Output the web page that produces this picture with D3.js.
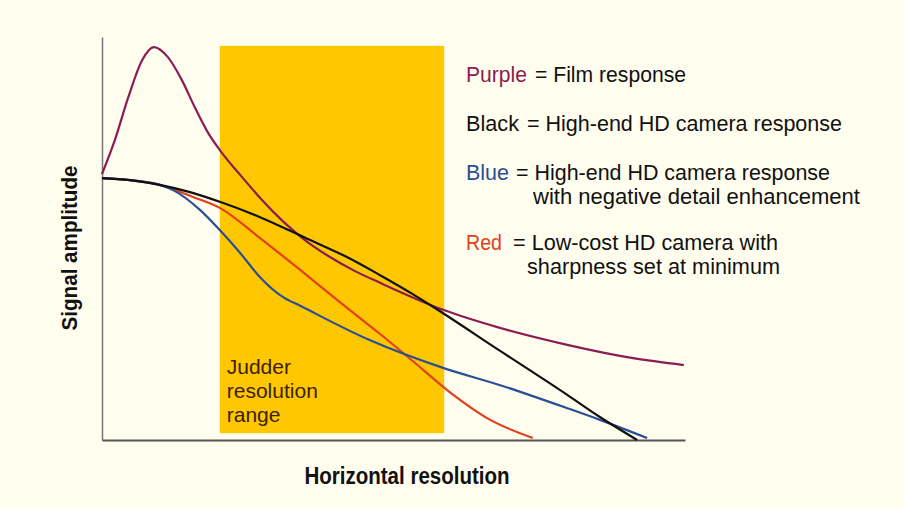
<!DOCTYPE html>
<html>
<head>
<meta charset="utf-8">
<script src="https://cdn.jsdelivr.net/npm/d3@7"></script>
<style>
  body { margin: 0; background: #fffdee; }
  svg { display: block; }
  text { font-family: "Liberation Sans Narrow", "Liberation Sans", sans-serif; }
</style>
</head>
<body>
<svg id="chart"></svg>
<script>
var svg1 = d3.select("#chart"), width = 904, height = 509;
svg1.attr("width", width).attr("height", height);

// curves, x and y both on a 0..100 scale
var purple = [[0,66],[2.2,74.4],[4.5,85],[6.9,94.3],[8.9,97.5],[11.3,95],[13.7,89.3],[15.9,82.6],
    [18.2,76.2],[20.6,71.2],[24,65.3],[27.4,59.6],[31,54.3],[34.8,49.6],[39.1,45.4],[43.4,41.9],
    [47.7,39],[58.5,32.3],[67.8,28],[79.8,23.6],[91.1,20.3],[99.8,18.6]];
var black = [[0,65],[4.8,64.5],[9.9,63.3],[15.1,61.5],[20.2,59.1],[27.1,55.3],[35.7,49.6],[42,45.4],
    [47.7,40.9],[53.3,36.2],[56.3,33.5],[68.3,22.1],[79.8,11.2],[85.4,5.7],[91.8,0]];
var blue = [[0,65],[4.8,64.5],[9.9,63.3],[12.2,62],[16.8,57.1],[20.2,52.1],[23.7,46.4],[27.1,40.4],
    [31,35.5],[34,33.3],[45.9,24.8],[58.5,17.9],[68.3,13.6],[79.8,7.9],[85.4,5],[93.5,0.5]];
var red = [[0,65],[4.8,64.5],[9.9,63.3],[15.6,60.3],[20.2,57.6],[27.1,50.1],[34,42.2],[40.8,34.2],
    [47.7,26.3],[53.3,19.6],[59.2,12.4],[66.6,5],[73.9,0.5]];

var judder = [20.2, 58.7];
var judderLines = ["Judder", "resolution", "range"];

var legend = [
    {key: "Purple", color: "#8c1d52", lines: ["Film response"]},
    {key: "Black", color: "#111111", lines: ["High-end HD camera response"]},
    {key: "Blue", color: "#2b4f94", lines: ["High-end HD camera response", "with negative detail enhancement"]},
    {key: "Red", color: "#e2401c", lines: ["Low-cost HD camera with", "sharpness set at minimum"]}
];
// layout of the legend text: baseline, key width, "=" start and width of the rest, second line indent/width
var legendLayout = [
    {y: 82, kw: 61, x1: 535, w1: 151},
    {y: 131, kw: 53, x1: 527, w1: 315},
    {y: 180, kw: 43, x1: 516, w1: 314, x2: 533, w2: 327},
    {y: 250, kw: 36, x1: 513, w1: 265, x2: 527, w2: 253}
];

var x = d3.scaleLinear().domain([0, 100]).range([102, 685]);
var y = d3.scaleLinear().domain([0, 100]).range([440, 37]);

// judder band
svg1.append("rect")
    .attr("x", x(judder[0]))
    .attr("y", y(97.8))
    .attr("width", x(judder[1]) - x(judder[0]))
    .attr("height", y(1.7) - y(97.8))
    .attr("fill", "#ffc700");

svg1.append("g")
    .selectAll("text")
    .data(judderLines)
    .enter()
    .append("text")
    .attr("x", x(judder[0]) + 7)
    .attr("y", function (d, i) { return 374 + i * 24; })
    .attr("font-size", 21)
    .attr("fill", "#3b2208")
    .text(function (d) { return d; });

// axes without ticks
svg1.append("g")
    .attr("transform", "translate(0," + y(0) + ")")
    .call(d3.axisBottom(x).ticks(0).tickSize(0).tickSizeOuter(0))
    .call(function (g) { g.select(".domain").attr("stroke", "#555").attr("stroke-width", 2); });
svg1.append("g")
    .attr("transform", "translate(" + x(0) + ",0)")
    .call(d3.axisLeft(y).ticks(0).tickSize(0).tickSizeOuter(0))
    .call(function (g) { g.select(".domain").attr("stroke", "#777").attr("stroke-width", 1.5); });

var lineGenerator = d3.line()
    .x(function (d) { return x(d[0]); })
    .y(function (d) { return y(d[1]); })
    .curve(d3.curveMonotoneX);

var series = [
    {data: red, color: "#e2401c"},
    {data: blue, color: "#2b4f94"},
    {data: purple, color: "#8c1d52"},
    {data: black, color: "#111111"}
];
svg1.append("g")
    .selectAll("path")
    .data(series)
    .enter()
    .append("path")
    .attr("d", function (d) { return lineGenerator(d.data); })
    .attr("fill", "none")
    .attr("stroke", function (d) { return d.color; })
    .attr("stroke-width", 2.2);

// axis titles
svg1.append("text")
    .attr("transform", "translate(77,248) rotate(-90)")
    .attr("text-anchor", "middle")
    .attr("font-size", 22)
    .attr("font-weight", "bold")
    .attr("fill", "#111")
    .attr("textLength", 165)
    .attr("lengthAdjust", "spacingAndGlyphs")
    .text("Signal amplitude");
svg1.append("text")
    .attr("x", 407)
    .attr("y", 484)
    .attr("text-anchor", "middle")
    .attr("font-size", 23)
    .attr("font-weight", "bold")
    .attr("fill", "#111")
    .attr("textLength", 205)
    .attr("lengthAdjust", "spacingAndGlyphs")
    .text("Horizontal resolution");

// legend
function legendText(xPos, yPos, w, color, str) {
    svg1.append("text")
        .attr("x", xPos)
        .attr("y", yPos)
        .attr("font-size", 21.4)
        .attr("fill", color)
        .attr("textLength", w)
        .attr("lengthAdjust", "spacingAndGlyphs")
        .text(str);
}
legend.forEach(function (item, i) {
    var lay = legendLayout[i];
    legendText(466, lay.y, lay.kw, item.color, item.key);
    legendText(lay.x1, lay.y, lay.w1, "#111", "= " + item.lines[0]);
    if (item.lines.length > 1) {
        legendText(lay.x2, lay.y + 24, lay.w2, "#111", item.lines[1]);
    }
});
</script>
</body>
</html>
